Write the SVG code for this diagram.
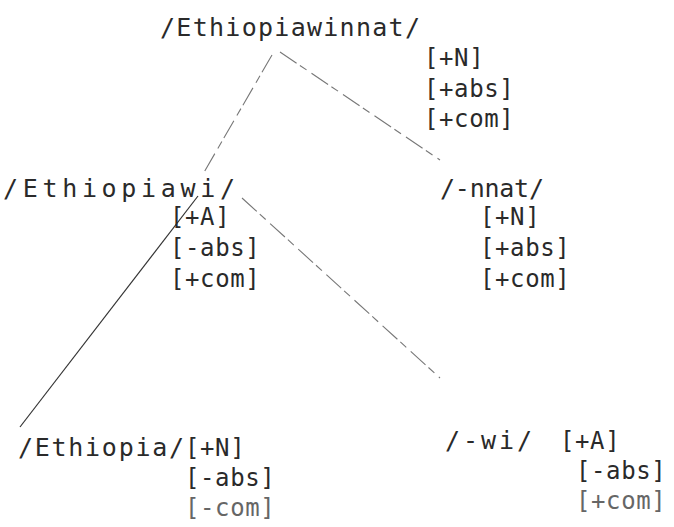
<svg xmlns="http://www.w3.org/2000/svg" width="674" height="527" viewBox="0 0 674 527">
<style>
text{font-family:"DejaVu Sans Mono","Liberation Mono",monospace;fill:#2a2a2a}
.nd{font-size:25px}
.ft{font-size:24px;letter-spacing:0.6px}
.lt{fill:#666}
.edge{stroke:#333;stroke-width:1.2;fill:none}
.faint{stroke:#777;stroke-width:1.1;stroke-dasharray:20 4 8 6;fill:none}
</style>
<rect width="674" height="527" fill="#fff"/>
<g id="edges">
<line class="faint" x1="272" y1="55" x2="203" y2="174"/>
<line class="faint" x1="280" y1="52" x2="440" y2="160"/>
<line class="edge" x1="198" y1="196" x2="20" y2="427"/>
<line class="faint" x1="242" y1="198" x2="440" y2="378"/>
</g>
<g id="n-root">
<text class="nd" x="160" y="36" textLength="260" lengthAdjust="spacing">/Ethiopiawinnat/</text>
<text class="ft" x="424" y="66">[+N]</text>
<text class="ft" x="424" y="97">[+abs]</text>
<text class="ft" x="424" y="127">[+com]</text>
</g>
<g id="n-ethiopiawi">
<text class="nd" x="3" y="197" textLength="232" lengthAdjust="spacing">/Ethiopiawi/</text>
<text class="ft" x="170" y="225">[+A]</text>
<text class="ft" x="170" y="256">[-abs]</text>
<text class="ft" x="170" y="287">[+com]</text>
</g>
<g id="n-nnat">
<text class="nd" x="440" y="197" textLength="104" lengthAdjust="spacing">/-nnat/</text>
<text class="ft" x="480" y="225">[+N]</text>
<text class="ft" x="480" y="256">[+abs]</text>
<text class="ft" x="480" y="287">[+com]</text>
</g>
<g id="n-ethiopia">
<text class="nd" x="18" y="456" textLength="166" lengthAdjust="spacing">/Ethiopia/</text>
<text class="ft" x="185" y="456">[+N]</text>
<text class="ft" x="185" y="486">[-abs]</text>
<text class="ft lt" x="185" y="516">[-com]</text>
</g>
<g id="n-wi">
<text class="nd" x="445" y="449" textLength="87" lengthAdjust="spacing">/-wi/</text>
<text class="ft" x="560" y="449">[+A]</text>
<text class="ft" x="576" y="479">[-abs]</text>
<text class="ft lt" x="576" y="509">[+com]</text>
</g>
</svg>
